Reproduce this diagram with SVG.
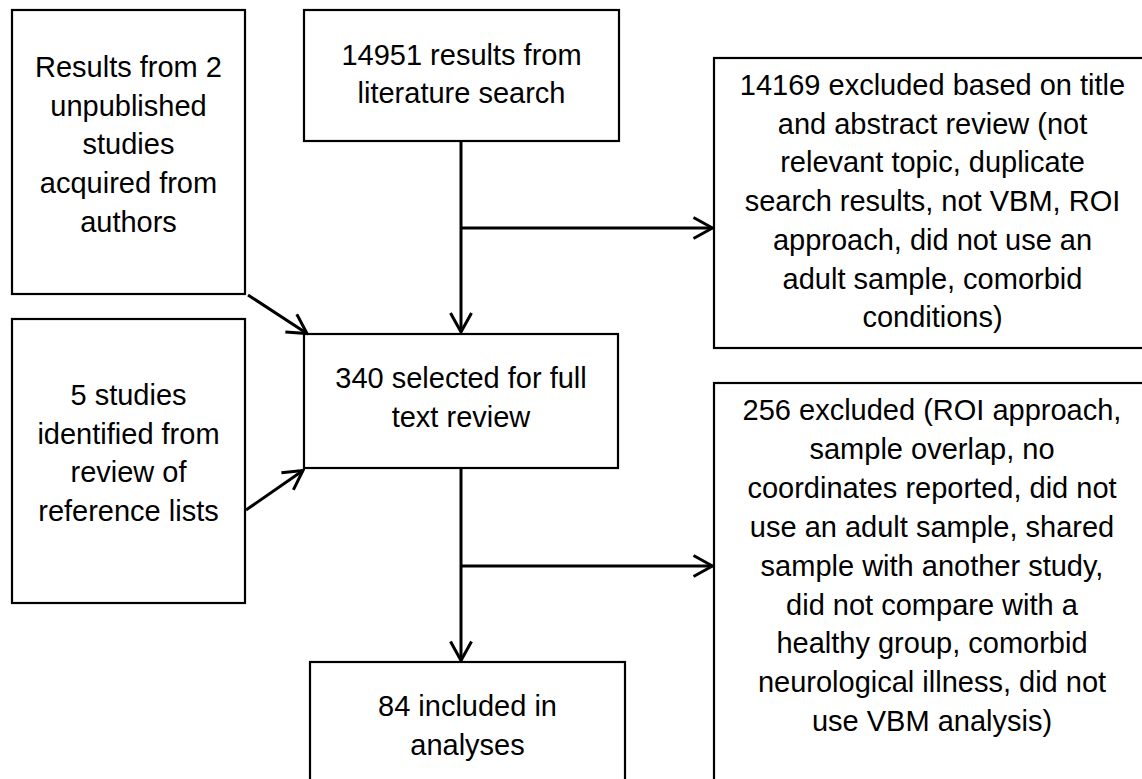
<svg xmlns="http://www.w3.org/2000/svg" width="1142" height="779" viewBox="0 0 1142 779">
<style>
.box{fill:#fff;stroke:#000;stroke-width:2.2}
.t{font-family:"Liberation Sans",Arial,sans-serif;font-size:29px;fill:#000;text-anchor:middle}
.c{fill:none;stroke:#000;stroke-width:3}
</style>
<defs>
<marker id="ah" markerUnits="userSpaceOnUse" viewBox="-22 -12 24 24" refX="0" refY="0" markerWidth="24" markerHeight="24" orient="auto">
<path d="M-19,-10.5 L0,0 L-19,10.5" fill="none" stroke="#000" stroke-width="3"/>
</marker>
</defs>
<rect width="1142" height="779" fill="#fff"/>
<g id="n_unpublished">
<rect class="box" x="12" y="10" width="233" height="284"/>
<text class="t" x="128.5" y="77">Results from 2</text>
<text class="t" x="128.5" y="116">unpublished</text>
<text class="t" x="128.5" y="154">studies</text>
<text class="t" x="128.5" y="193">acquired from</text>
<text class="t" x="128.5" y="232">authors</text>
</g>
<g id="n_reflists">
<rect class="box" x="12" y="319" width="233" height="284"/>
<text class="t" x="128.5" y="405">5 studies</text>
<text class="t" x="128.5" y="443.5">identified from</text>
<text class="t" x="128.5" y="482">review of</text>
<text class="t" x="128.5" y="520.5">reference lists</text>
</g>
<g id="n_search">
<rect class="box" x="304" y="10" width="315" height="131"/>
<text class="t" x="461.5" y="64.5">14951 results from</text>
<text class="t" x="461.5" y="103">literature search</text>
</g>
<g id="n_fulltext">
<rect class="box" x="304" y="334" width="314" height="134"/>
<text class="t" x="461" y="388">340 selected for full</text>
<text class="t" x="461" y="426.5">text review</text>
</g>
<g id="n_included">
<rect class="box" x="310" y="662" width="315" height="130"/>
<text class="t" x="467.5" y="716">84 included in</text>
<text class="t" x="467.5" y="754.5">analyses</text>
</g>
<g id="n_excl1">
<rect class="box" x="714" y="58" width="437" height="290"/>
<text class="t" x="932.5" y="95">14169 excluded based on title</text>
<text class="t" x="932.5" y="133.5">and abstract review (not</text>
<text class="t" x="932.5" y="172">relevant topic, duplicate</text>
<text class="t" x="932.5" y="211">search results, not VBM, ROI</text>
<text class="t" x="932.5" y="250">approach, did not use an</text>
<text class="t" x="932.5" y="288.5">adult sample, comorbid</text>
<text class="t" x="932.5" y="327">conditions)</text>
</g>
<g id="n_excl2">
<rect class="box" x="714" y="383" width="437" height="420"/>
<text class="t" x="932" y="420">256 excluded (ROI approach,</text>
<text class="t" x="932" y="459">sample overlap, no</text>
<text class="t" x="932" y="498">coordinates reported, did not</text>
<text class="t" x="932" y="537">use an adult sample, shared</text>
<text class="t" x="932" y="576">sample with another study,</text>
<text class="t" x="932" y="614.5">did not compare with a</text>
<text class="t" x="932" y="653">healthy group, comorbid</text>
<text class="t" x="932" y="692">neurological illness, did not</text>
<text class="t" x="932" y="731">use VBM analysis)</text>
</g>
<g id="connectors">
<path class="c" d="M461,141 V332" marker-end="url(#ah)"/>
<path class="c" d="M461,228 H712.5" marker-end="url(#ah)"/>
<path class="c" d="M461,468 V660.5" marker-end="url(#ah)"/>
<path class="c" d="M461,566 H712.5" marker-end="url(#ah)"/>
<path class="c" d="M248,295 L307,333.5" marker-end="url(#ah)"/>
<path class="c" d="M246,510 L303,470.5" marker-end="url(#ah)"/>
</g>
</svg>
